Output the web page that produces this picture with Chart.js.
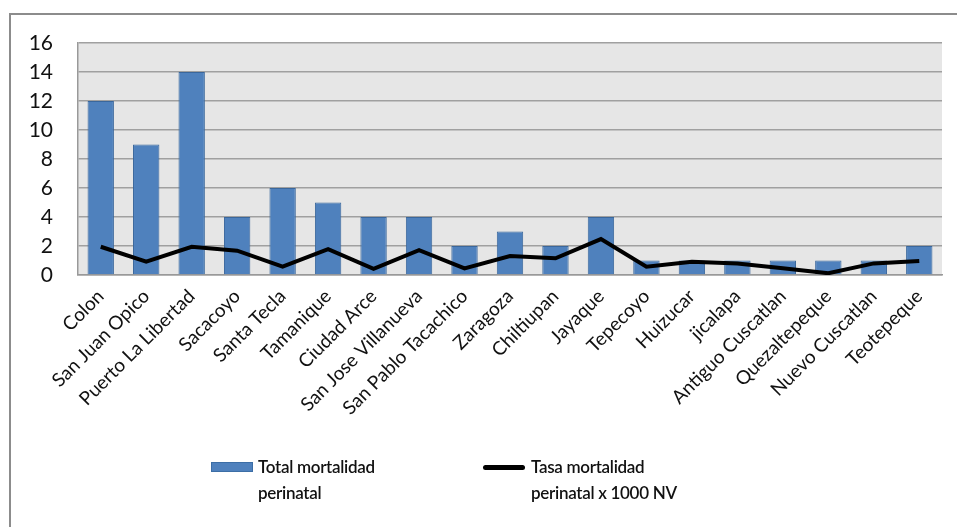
<!DOCTYPE html>
<html>
<head>
<meta charset="utf-8">
<script src="https://cdn.jsdelivr.net/npm/chart.js@4/dist/chart.umd.min.js"></script>
<style>
  body { margin: 0; background: #fff; font-family: Lato, sans-serif; }
  #wrap { position: relative; width: 957px; height: 527px; overflow: hidden; }
  #frame { position: absolute; left: 9px; top: 13px; width: 960px; height: 530px; border: 2px solid #8c8c8c; box-sizing: border-box; }
  canvas { position: absolute; left: 0; top: 0; }
  .leg { position: absolute; font-size: 17px; color: #111; line-height: 26px; font-weight: 600; letter-spacing: -0.3px; }
  .sw { position: absolute; }
</style>
</head>
<body>
<div id="wrap">
  <div id="frame"></div>
  <canvas id="chart" width="957" height="527"></canvas>
  <div class="sw" style="left:211px;top:462px;width:42px;height:10px;background:#4f81bd;border:1px solid #3c6ea6;box-sizing:border-box;"></div>
  <div class="leg" style="left:258px;top:454px;">Total mortalidad<br>perinatal</div>
  <div class="sw" style="left:483px;top:465px;width:42px;height:5px;background:#000;border-radius:3px;"></div>
  <div class="leg" style="left:531px;top:454px;">Tasa mortalidad<br>perinatal x 1000 NV</div>
</div>
<script>
// municipios
const labels = ['Colon', 'San Juan Opico', 'Puerto La Libertad', 'Sacacoyo', 'Santa Tecla', 'Tamanique', 'Ciudad Arce',
  'San Jose Villanueva', 'San Pablo Tacachico', 'Zaragoza', 'Chiltiupan', 'Jayaque', 'Tepecoyo', 'Huizucar', 'jicalapa',
  'Antiguo Cuscatlan', 'Quezaltepeque', 'Nuevo Cuscatlan', 'Teotepeque'];
const totalMortalidad = [12, 9, 14, 4, 6, 5, 4, 4, 2, 3, 2, 4, 1, 1, 1, 1, 1, 1, 2];
const tasaMortalidad = [1.95, 0.92, 1.95, 1.68, 0.57, 1.79, 0.43, 1.72, 0.46, 1.31, 1.15, 2.48, 0.57, 0.92, 0.8, 0.46, 0.12, 0.8, 0.97];
const yTicks = [0, 2, 4, 6, 8, 10, 12, 14, 16];

// fondo gris del area de trazado
const plotBg = {
  id: 'plotBg',
  beforeDraw(chart) {
    const { ctx, chartArea: a } = chart;
    ctx.save();
    ctx.fillStyle = '#e6e6e6';
    ctx.fillRect(a.left, a.top, a.right - a.left, a.bottom - a.top);
    ctx.restore();
  }
};

new Chart(document.getElementById('chart'), {
  type: 'bar',
  data: {
    labels: labels,
    datasets: [
      {
        type: 'line',
        label: 'Tasa mortalidad perinatal x 1000 NV',
        data: tasaMortalidad,
        borderColor: '#000',
        borderWidth: 4,
        pointRadius: 0,
        tension: 0,
        order: 0
      },
      {
        label: 'Total mortalidad perinatal',
        data: totalMortalidad,
        backgroundColor: '#4f81bd',
        borderColor: '#3a679c',
        borderWidth: 1,
        barPercentage: 0.58,
        categoryPercentage: 1,
        order: 1
      }
    ]
  },
  options: {
    responsive: false,
    animation: false,
    layout: { padding: { top: 43, right: 15, left: 0, bottom: 112 } },
    plugins: { legend: { display: false }, tooltip: { enabled: false } },
    scales: {
      x: {
        grid: { display: false },
        border: { color: '#999', width: 1.5 },
        ticks: { color: '#111', font: { family: 'Lato', size: 19 }, maxRotation: 45, minRotation: 45, autoSkip: false, padding: 2 },
        afterFit(scale) { scale.height = 140; }
      },
      y: {
        min: 0,
        max: 16,
        afterBuildTicks(scale) { scale.ticks = yTicks.map(v => ({ value: v })); },
        grid: { color: '#a0a0a0', lineWidth: 1.5, drawTicks: false },
        border: { color: '#999', width: 1.5 },
        ticks: { color: '#111', font: { family: 'Lato', size: 21 }, padding: 25 },
        afterFit(scale) { scale.width = 78; }
      }
    }
  },
  plugins: [plotBg]
});
</script>
</body>
</html>
